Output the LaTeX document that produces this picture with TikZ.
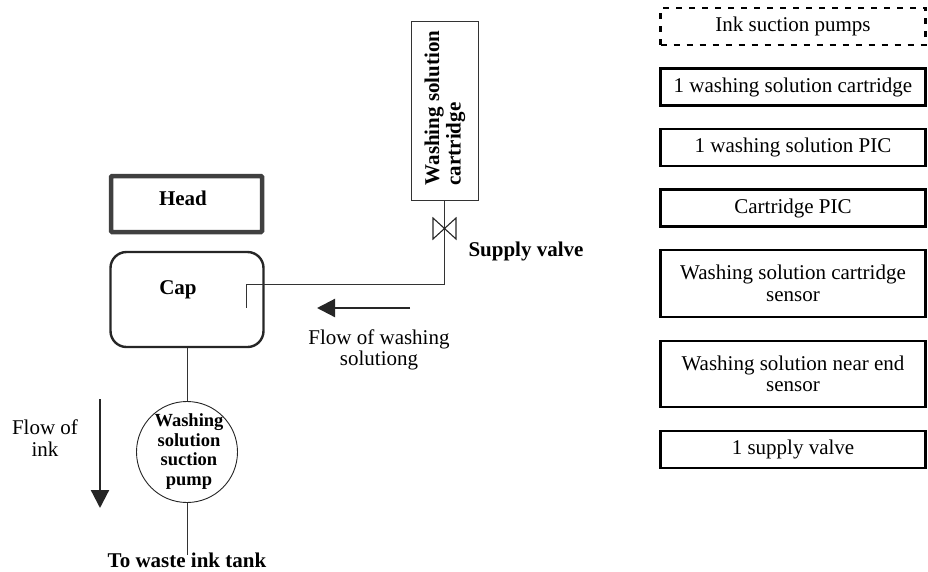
\documentclass[tikz,border=0pt]{standalone}
\usepackage{fontspec}
\setmainfont{Liberation Serif}
\usetikzlibrary{arrows.meta,shapes.geometric}

\begin{document}
\begin{tikzpicture}[x=1pt,y=-1pt,node distance=60.5pt,
    >={Triangle[length=18pt,width=18pt]},
    every node/.style={font=\fontsize{21}{21.5}\selectfont,align=center,inner sep=0pt},
    sidebox/.style={draw=black,line width=2.6pt,minimum width=265pt,minimum height=37pt},
    pipe/.style={draw=black!80,line width=0.9pt},
    flow/.style={->,black!85,line width=2.2pt},
    boldlabel/.style={font=\fontsize{21}{21.5}\selectfont\bfseries}]
    \useasboundingbox (0,0) rectangle (928,571);
            % left side
            \node[draw=black!75,line width=4.5pt,rounded corners=1pt,minimum width=151pt,minimum height=56pt] (head) at (186.5,204) {};
            \node[boldlabel] (headtext) at (183,198) {Head};
            \node[draw=black!85,line width=2.4pt,rounded corners=16pt,minimum width=153pt,minimum height=95pt] (cap) at (187,299.5) {};
            \node[boldlabel] (captext) at (178,290) {Cap};
            \node[draw=black!85,circle,line width=0.9pt,minimum size=101pt] (pump) at (187,452) {};
            \node[font=\fontsize{18.5}{19.8}\selectfont\bfseries] (pumptext) at (189,451.5) {Washing\\solution\\suction\\pump};
            \node[boldlabel] (waste) at (187,560) {To waste ink tank};
            \node[] (flowink) at (45,438) {Flow of\\ink};

            % cartridge and valve
            \node[draw=black!80,line width=0.9pt,minimum width=67pt,minimum height=179pt] (cartridge) at (444.5,111) {};
            \node[boldlabel,rotate=90,align=left] (cartridgetext) at (445,108) {Washing solution\\cartridge};
            \node[boldlabel] (supply) at (526,251) {Supply valve};
            \node[] (flowwash) at (379,350) {Flow of washing\\solutiong};

            \coordinate (bend) at (444.5,284);
            \coordinate (inlet) at (246,284);
            \coordinate (inletend) at (246,308);
            \coordinate (wasteend) at (187,555);
            \coordinate (inkstart) at (100,399);
            \coordinate (inkend) at (100,508);
            \coordinate (washstart) at (410,308);
            \coordinate (washend) at (317,308);
            \coordinate (valvetl) at (433,218);
            \coordinate (valvebl) at (433,239);
            \coordinate (valvetr) at (456,218);
            \coordinate (valvebr) at (456,239);

            % right column
            \node[sidebox,dash pattern=on 6pt off 7pt] (pumps) at (793,26.5) {Ink suction pumps};
            \node[sidebox] (onecart) [below of=pumps] {1 washing solution cartridge};
            \node[sidebox] (onepic) [below of=onecart] {1 washing solution PIC};
            \node[sidebox] (cartpic) [below of=onepic] {Cartridge PIC};
            \node[sidebox,minimum height=67pt] (cartsensor) [below of=cartpic,node distance=75.5pt] {Washing solution cartridge\\sensor};
            \node[sidebox,minimum height=66pt] (endsensor) [below of=cartsensor,node distance=90.5pt] {Washing solution near end\\sensor};
            \node[sidebox] (onevalve) [below of=endsensor,node distance=75.5pt] {1 supply valve};

            \path[pipe]
                     (cartridge.south) edge (bend)
                     (bend) edge (inlet)
                     (inlet) edge (inletend)
                     (cap.south) edge (pump.north)
                     (pump.south) edge (wasteend)
                     ;
            \draw[draw=black!85,line width=1.1pt] (valvetl) -- (valvebr) -- (valvetr) -- (valvebl) -- cycle;
            \draw[flow] (inkstart) -- (inkend);
            \draw[flow] (washstart) -- (washend);
             \end{tikzpicture}
\end{document}
